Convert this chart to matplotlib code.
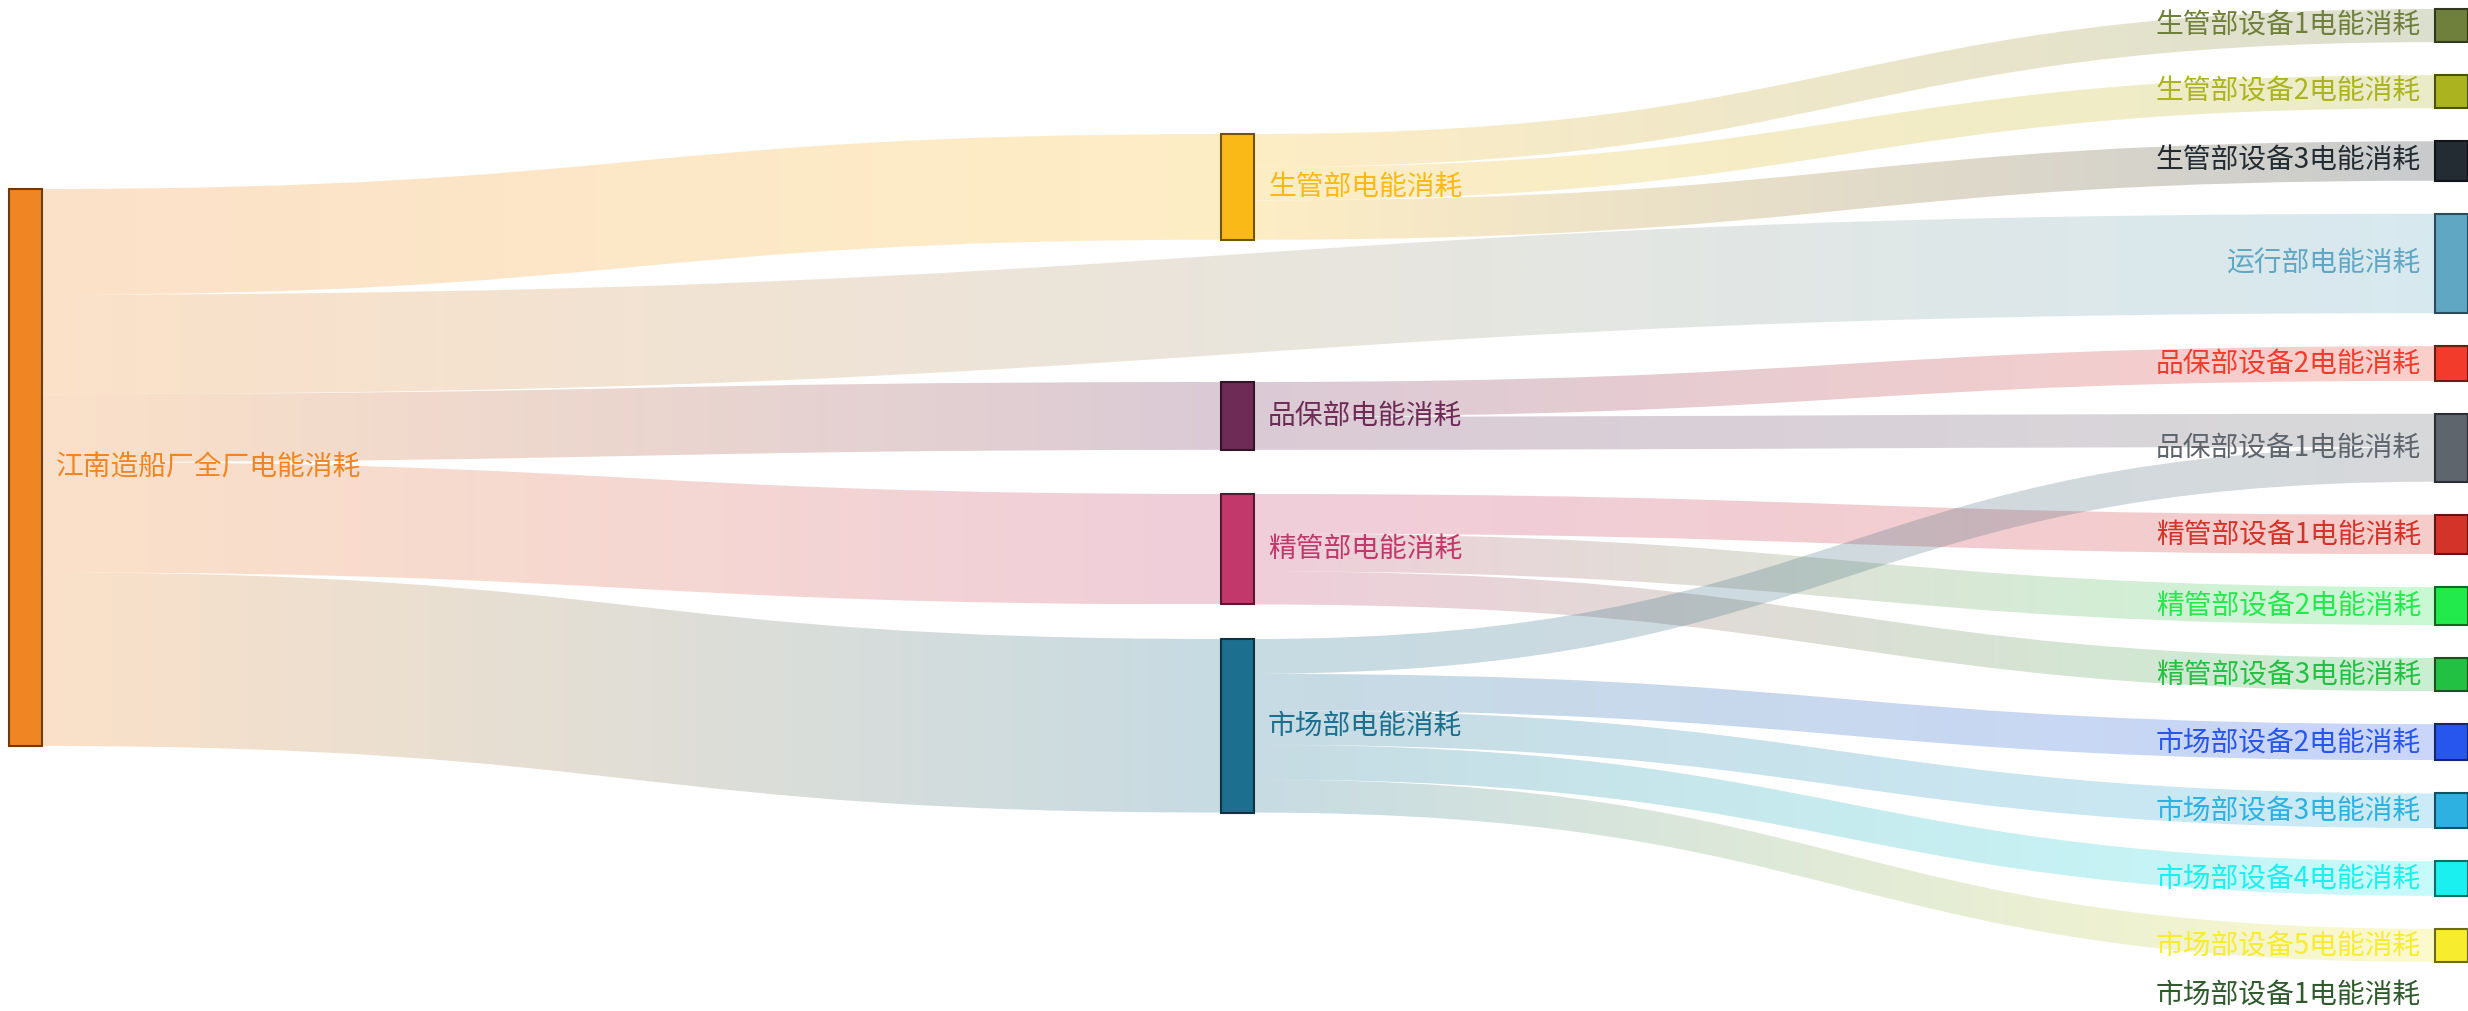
import numpy as np
import matplotlib
matplotlib.use('Agg')
import matplotlib.pyplot as plt
from matplotlib.path import Path
from matplotlib.patches import PathPatch, Rectangle
from matplotlib.colors import to_rgb

plt.rcParams['font.family'] = ['Noto Sans CJK SC', 'DejaVu Sans']

# ---------------- data ----------------
node_names = [
    '江南造船厂全厂电能消耗',
    '生管部电能消耗', '品保部电能消耗', '精管部电能消耗', '市场部电能消耗',
    '生管部设备1电能消耗', '生管部设备2电能消耗', '生管部设备3电能消耗',
    '运行部电能消耗',
    '品保部设备2电能消耗', '品保部设备1电能消耗',
    '精管部设备1电能消耗', '精管部设备2电能消耗', '精管部设备3电能消耗',
    '市场部设备2电能消耗', '市场部设备3电能消耗', '市场部设备4电能消耗',
    '市场部设备5电能消耗', '市场部设备1电能消耗',
]
node_colors = [
    '#ef8623',
    '#fbb917', '#6e2b56', '#c2386a', '#1c6f8e',
    '#6f7f3c', '#abb41e', '#232b33',
    '#5fa7c3',
    '#f23b2b', '#5e656d',
    '#d43329', '#22ea4c', '#22c143',
    '#2756ef', '#2cb1e0', '#1af0f0',
    '#f7ec2e', '#2f5a2c',
]
link_sources = [
    '江南造船厂全厂电能消耗', '江南造船厂全厂电能消耗', '江南造船厂全厂电能消耗',
    '江南造船厂全厂电能消耗', '江南造船厂全厂电能消耗',
    '生管部电能消耗', '生管部电能消耗', '生管部电能消耗',
    '品保部电能消耗', '品保部电能消耗',
    '精管部电能消耗', '精管部电能消耗', '精管部电能消耗',
    '市场部电能消耗', '市场部电能消耗', '市场部电能消耗', '市场部电能消耗',
    '市场部电能消耗', '市场部电能消耗',
]
link_targets = [
    '生管部电能消耗', '运行部电能消耗', '品保部电能消耗', '精管部电能消耗', '市场部电能消耗',
    '生管部设备1电能消耗', '生管部设备2电能消耗', '生管部设备3电能消耗',
    '品保部设备2电能消耗', '品保部设备1电能消耗',
    '精管部设备1电能消耗', '精管部设备2电能消耗', '精管部设备3电能消耗',
    '品保部设备1电能消耗', '市场部设备2电能消耗', '市场部设备3电能消耗',
    '市场部设备4电能消耗', '市场部设备5电能消耗', '市场部设备1电能消耗',
]
link_values = [
    67, 63, 43, 70, 110,
    21, 21, 25,
    22, 21,
    25, 24, 21,
    22, 23, 22, 22, 21, 0,
]

# ---------------- layout (style / geometry) ----------------
W, H = 2468, 1011
node_width = 33
node_gap = 33
col_x = [9, 1221, 2435]
layout_top, layout_bottom = 9, 995
# vertical placement of nodes in the first two columns (relaxed positions)
fixed_tops = {
    '江南造船厂全厂电能消耗': 189,
    '生管部电能消耗': 134, '品保部电能消耗': 382,
    '精管部电能消耗': 494, '市场部电能消耗': 639,
}
link_alpha = 0.25
font_size = 20

# ---------------- compute sankey ----------------
color = {nm: c for nm, c in zip(node_names, node_colors)}
vin = {nm: 0 for nm in node_names}
vout = {nm: 0 for nm in node_names}
for s, t, v in zip(link_sources, link_targets, link_values):
    vout[s] += v
    vin[t] += v
value = {nm: max(vin[nm], vout[nm]) for nm in node_names}

# depth
depth = {}
for nm in node_names:
    if nm not in link_targets:
        depth[nm] = 0
changed = True
while changed:
    changed = False
    for s, t in zip(link_sources, link_targets):
        if s in depth and depth.get(t, -1) < depth[s] + 1:
            depth[t] = depth[s] + 1
            changed = True
maxd = max(depth.values())
for nm in node_names:
    if nm not in link_sources:
        depth[nm] = maxd

cols = {d: [nm for nm in node_names if depth[nm] == d] for d in range(maxd + 1)}
ky = min((layout_bottom - layout_top - (len(c) - 1) * node_gap) / sum(value[x] for x in c)
         for c in cols.values())

top = {}
for d, c in cols.items():
    y = layout_top
    for nm in c:
        if nm in fixed_tops:
            top[nm] = fixed_tops[nm]
        else:
            top[nm] = y
        y = top[nm] + value[nm] * ky + node_gap
height = {nm: value[nm] * ky for nm in node_names}
xpos = {nm: col_x[depth[nm]] for nm in node_names}

# link offsets
links = list(zip(link_sources, link_targets, link_values))
sy = {}
ty = {}
for nm in node_names:
    outs = sorted([i for i, l in enumerate(links) if l[0] == nm], key=lambda i: top[links[i][1]])
    off = top[nm]
    for i in outs:
        sy[i] = off
        off += links[i][2] * ky
    ins = sorted([i for i, l in enumerate(links) if l[1] == nm], key=lambda i: top[links[i][0]])
    off = top[nm]
    for i in ins:
        ty[i] = off
        off += links[i][2] * ky

# ---------------- draw ----------------
fig = plt.figure(figsize=(W / 100, H / 100), dpi=100)
ax = fig.add_axes([0, 0, 1, 1])
ax.set_axis_off()

for i, (s, t, v) in enumerate(links):
    if v <= 0:
        continue
    x0 = xpos[s] + node_width
    x1 = xpos[t]
    xm = (x0 + x1) / 2
    h = v * ky
    s0, s1 = sy[i], sy[i] + h
    t0, t1 = ty[i], ty[i] + h
    verts = [(x0, s0), (xm, s0), (xm, t0), (x1, t0), (x1, t1),
             (xm, t1), (xm, s1), (x0, s1), (x0, s0)]
    codes = [Path.MOVETO, Path.CURVE4, Path.CURVE4, Path.CURVE4, Path.LINETO,
             Path.CURVE4, Path.CURVE4, Path.CURVE4, Path.CLOSEPOLY]
    path = Path(verts, codes)
    patch = PathPatch(path, facecolor='none', edgecolor='none')
    ax.add_patch(patch)
    c0 = np.array(to_rgb(color[s]))
    c1 = np.array(to_rgb(color[t]))
    tt = np.linspace(0, 1, 256)[:, None]
    rgb = c0 * (1 - tt) + c1 * tt
    img = np.concatenate([rgb, np.full((256, 1), link_alpha)], axis=1)[None, :, :]
    ymin = min(s0, t0)
    ymax = max(s1, t1)
    im = ax.imshow(img, extent=(x0, x1, ymax, ymin), aspect='auto',
                   interpolation='bilinear', zorder=1)
    im.set_clip_path(patch)

for nm in node_names:
    c = np.array(to_rgb(color[nm]))
    if height[nm] > 0:
        ax.add_patch(Rectangle((xpos[nm], top[nm]), node_width, height[nm],
                               facecolor=color[nm], edgecolor=tuple(c * 0.45),
                               lw=1.5, zorder=3))
    yc = top[nm] + height[nm] / 2
    if depth[nm] == maxd:
        ax.text(xpos[nm] - 14, yc, nm, ha='right', va='center',
                fontsize=font_size, color=color[nm], zorder=4)
    else:
        ax.text(xpos[nm] + node_width + 14, yc, nm, ha='left', va='center',
                fontsize=font_size, color=color[nm], zorder=4)

ax.set_xlim(0, W)
ax.set_ylim(H, 0)
fig.savefig('out.png', dpi=100, facecolor='white')
